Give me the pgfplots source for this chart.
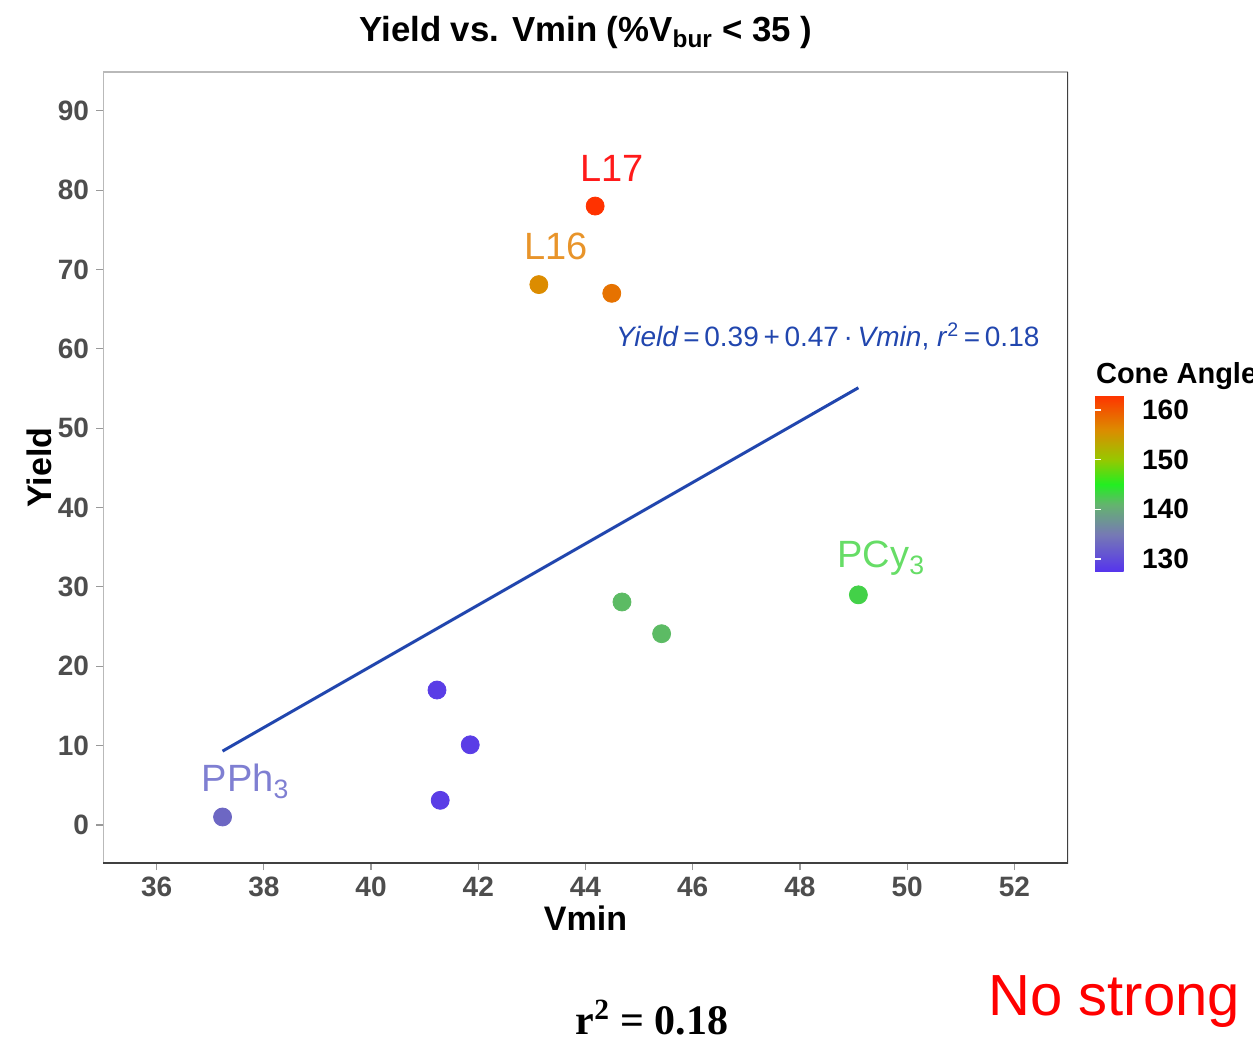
\documentclass[border=0pt]{standalone}
\usepackage{fontspec}
\setmainfont{Liberation Sans}
\newfontfamily\serifbold{Liberation Serif}
\usepackage{pgfplots}
\pgfplotsset{compat=1.18}

\definecolor{tickgray}{HTML}{4D4D4D}
\definecolor{fitblue}{HTML}{2146AE}
\definecolor{labred}{HTML}{FF1A1A}
\definecolor{laborange}{HTML}{E8942A}
\definecolor{labgreen}{HTML}{66DD66}
\definecolor{labpurple}{HTML}{7F7FD2}

\pgfplotsset{
  colormap={cone}{
    rgb255(0pt)=(85,51,238);
    rgb255(7.6pt)=(118,122,180);
    rgb255(13.6pt)=(100,180,110);
    rgb255(17.6pt)=(34,238,34);
    rgb255(22.6pt)=(150,200,0);
    rgb255(28.6pt)=(220,140,0);
    rgb255(35.6pt)=(255,50,0)
  }
}

\begin{document}
\begin{tikzpicture}[x=0.5pt,y=0.5pt]
\useasboundingbox (0,0) rectangle (1253,1045);
\clip (0,0) rectangle (1253,1045);

\begin{axis}[
  at={(51.5pt,91pt)}, anchor=south west,
  scale only axis,
  width=482.5pt, height=395.5pt,
  xmin=35, xmax=53, ymin=-4.8, ymax=94.9,
  xtick={36,38,...,52}, ytick={0,10,...,90},
  tick pos=left, tick align=outside,
  major tick length=3.5pt,
  tick style={gray!80, line width=0.6pt},
  axis line style={draw=none},
  /pgf/number format/assume math mode=true,
  ticklabel style={font=\fontsize{14}{16}\selectfont\bfseries, text=tickgray},
  xlabel={Vmin}, ylabel={Yield},
  label style={font=\fontsize{17}{20}\selectfont\bfseries},
  xlabel style={at={(0.5,0)}, anchor=north, yshift=-18pt},
  ylabel style={at={(0,0.5)}, anchor=south, yshift=22pt},
  colormap name=cone,
  point meta min=127.4, point meta max=163,
  colorbar,
  colorbar style={
    at={(parent axis.south east)}, anchor=south west,
    xshift=5pt, yshift=145.5pt,
    scale only axis,
    width=21pt, height=88.5pt,
    ytick={130,140,150,160},
    axis line style={draw=none},
    major tick length=3pt,
    tick style={white, line width=0.6pt},
    yticklabel style={font=\fontsize{14}{16}\selectfont\bfseries, text=black, xshift=-1pt},
    /pgf/number format/assume math mode=true,
  },
]
\draw[gray!55, line width=0.9pt] (rel axis cs:0,0) -- (rel axis cs:0,1) -- (rel axis cs:1,1);
\draw[black!75, line width=1pt] (rel axis cs:0,0) -- (rel axis cs:1,0) -- (rel axis cs:1,1);

% regression line
\addplot[fitblue, line width=1.5pt] coordinates {(37.23,9.3) (49.09,55.1)};

% points, meta = cone angle (colour)
\addplot[scatter, only marks, mark=*, mark size=4.5pt,
  scatter/use mapped color={draw=mapped color, fill=mapped color},
  point meta=explicit]
  coordinates {
    (37.23,1.0) [133]
    (41.23,17.0) [128.5]
    (41.85,10.1) [128.5]
    (41.29,3.1) [128.5]
    (43.13,68.1) [156]
    (44.18,78.0) [163]
    (44.49,67.0) [158]
    (44.68,28.1) [141.5]
    (45.42,24.1) [141.5]
    (49.09,29.0) [143]
  };

\node[text=labred, font=\fontsize{19}{22}\selectfont] at (axis cs:44.49,82.8) {L17};
\node[text=laborange, font=\fontsize{19}{22}\selectfont] at (axis cs:43.45,72.9) {L16};
\node[text=labgreen, font=\fontsize{19}{22}\selectfont] at (axis cs:49.52,33.6) {PCy\textsubscript{3}};
\node[text=labpurple, font=\fontsize{19}{22}\selectfont] at (axis cs:37.66,5.5) {PPh\textsubscript{3}};
\node[text=fitblue, font=\fontsize{14}{16}\selectfont] at (axis cs:48.52,61.6)
  {\textit{Yield}\,=\,0.39\,+\,0.47\,·\,\textit{Vmin},\ \textit{r}\textsuperscript{2}\,=\,0.18};
\end{axis}

\node[font=\fontsize{17.4}{20}\selectfont\bfseries] at (586,1012) {Yield vs. Vmin (\%V\textsubscript{bur} < 35 )};
\node[font=\fontsize{14.5}{16}\selectfont\bfseries, anchor=west] at (1089,669) {Cone Angle};
\node[font=\serifbold\fontsize{21}{24}\selectfont\bfseries] at (652,27) {r\textsuperscript{2} = 0.18};
\node[font=\fontsize{29}{32}\selectfont, text=red, anchor=base west, inner sep=0pt] at (988,30) {No strong correlation};
\end{tikzpicture}
\end{document}
